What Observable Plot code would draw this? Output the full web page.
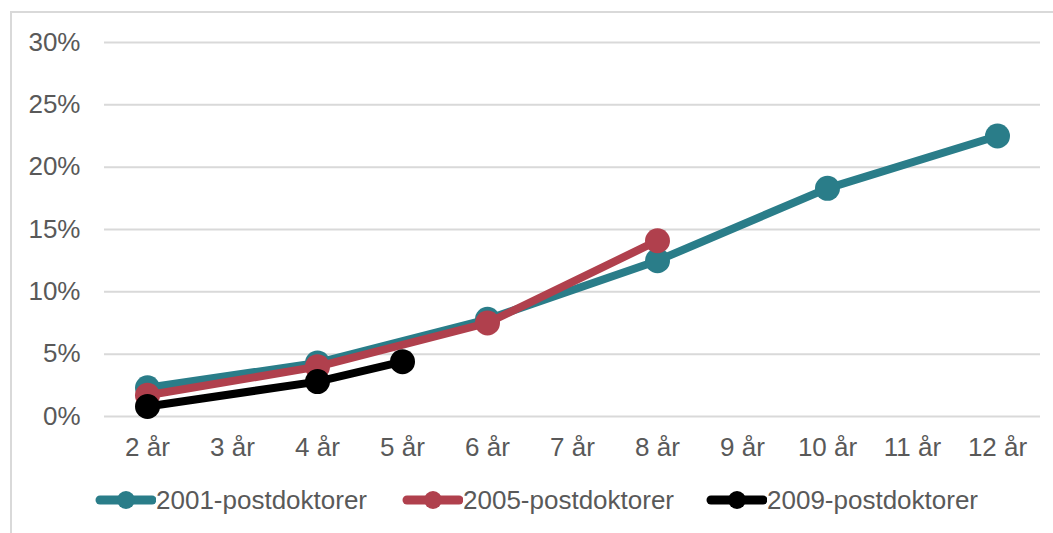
<!DOCTYPE html>
<html>
<head>
<meta charset="utf-8">
<script src="https://cdn.jsdelivr.net/npm/d3@7"></script>
<script src="https://cdn.jsdelivr.net/npm/@observablehq/plot@0.6"></script>
<style>
  body { margin: 0; background: #fff; font-family: "Liberation Sans", Arial, sans-serif; }
  #wrap { position: relative; width: 1053px; height: 533px; overflow: hidden; }
  #frame { position: absolute; left: 10px; top: 11px; width: 1100px; height: 600px; border: 2px solid #d9d9d9; box-sizing: border-box; }
  #chart { position: absolute; left: 0; top: 0; }
  #legend { position: absolute; left: 0; top: 484px; width: 1053px; height: 32px; }
  .item { position: absolute; top: 0; display: flex; align-items: center; height: 32px; font-size: 26px; color: #595959; white-space: nowrap; }
  .item svg { display: block; }
</style>
</head>
<body>
<div id="wrap">
  <div id="frame"></div>
  <div id="chart"></div>
  <div id="legend"></div>
</div>
<script>
const categories = ["2 år","3 år","4 år","5 år","6 år","7 år","8 år","9 år","10 år","11 år","12 år"];
const seriesNames = ["2001-postdoktorer","2005-postdoktorer","2009-postdoktorer"];
const seriesColors = ["#2a7d89","#b0404d","#000000"];
const s2001x = ["2 år","4 år","6 år","8 år","10 år","12 år"];
const s2001y = [2.3, 4.3, 7.8, 12.5, 18.3, 22.5];
const s2005x = ["2 år","4 år","6 år","8 år"];
const s2005y = [1.7, 4.0, 7.5, 14.1];
const s2009x = ["2 år","4 år","5 år"];
const s2009y = [0.8, 2.8, 4.4];
const yTicks = [0, 5, 10, 15, 20, 25, 30];

const data = [];
[[s2001x, s2001y], [s2005x, s2005y], [s2009x, s2009y]].forEach(([xs, ys], i) => {
  xs.forEach((x, j) => data.push({series: seriesNames[i], x, y: ys[j] / 100}));
});

const marks = [
  Plot.ruleY(yTicks.map(d => d / 100), {stroke: "#d9d9d9", strokeWidth: 2}),
  Plot.axisY({ticks: yTicks.map(d => d / 100), tickFormat: d => Math.round(d * 100) + "%", tickSize: 0, tickPadding: 24, fontSize: 26, color: "#595959", label: null}),
  Plot.axisX({tickSize: 0, tickPadding: 21, fontSize: 26, color: "#595959", label: null})
];
seriesNames.forEach((name, i) => {
  const d = data.filter(r => r.series === name);
  marks.push(Plot.line(d, {x: "x", y: "y", stroke: seriesColors[i], strokeWidth: 8, strokeLinejoin: "round"}));
  marks.push(Plot.dot(d, {x: "x", y: "y", fill: seriesColors[i], r: 12.5, stroke: "none"}));
});

const chart = Plot.plot({
  width: 1053,
  height: 476,
  marginLeft: 104,
  marginRight: 13,
  marginTop: 42,
  marginBottom: 60,
  style: {fontFamily: "Liberation Sans, Arial, sans-serif", fontSize: "26px", background: "transparent", color: "#595959"},
  x: {type: "point", domain: categories, padding: 0.5, label: null},
  y: {domain: [0, 0.30], label: null},
  marks
});
document.getElementById("chart").appendChild(chart);

const legendPos = [94, 401, 705];
const legend = document.getElementById("legend");
seriesNames.forEach((name, i) => {
  const item = document.createElement("div");
  item.className = "item";
  item.style.left = legendPos[i] + "px";
  item.innerHTML = `<svg width="62" height="32"><line x1="6" y1="16" x2="58" y2="16" stroke="${seriesColors[i]}" stroke-width="9" stroke-linecap="round"/><circle cx="32" cy="16" r="9" fill="${seriesColors[i]}"/></svg><span>${name}</span>`;
  legend.appendChild(item);
});
</script>
</body>
</html>
